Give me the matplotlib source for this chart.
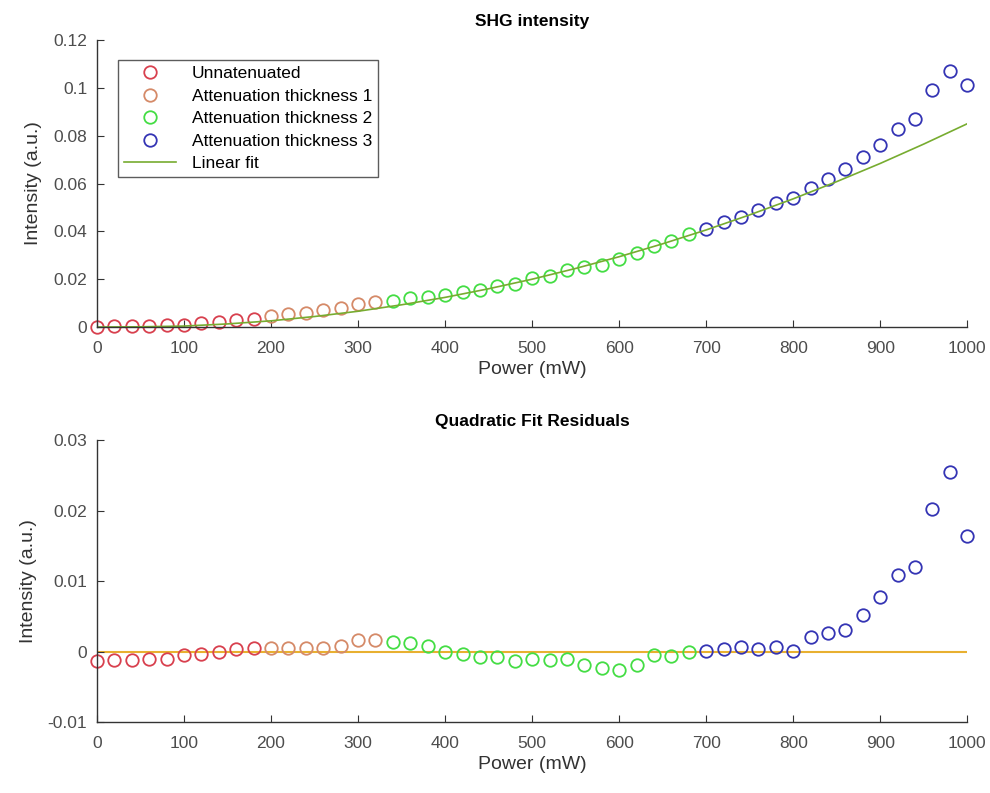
import numpy as np
import matplotlib
matplotlib.use("Agg")
import matplotlib.pyplot as plt

plt.rcParams['font.family'] = ['Liberation Sans', 'DejaVu Sans']

""" Data read from the picture """
power = [0, 20, 40, 60, 80, 100, 120, 140, 160, 180,
         200, 220, 240, 260, 280, 300, 320,
         340, 360, 380, 400, 420, 440, 460, 480, 500, 520, 540, 560, 580,
         600, 620, 640, 660, 680,
         700, 720, 740, 760, 780, 800, 820, 840, 860, 880, 900, 920, 940,
         960, 980, 1000]

intensity = [0.0, 0.0003, 0.0003, 0.0005, 0.0007, 0.001, 0.0018, 0.002, 0.003, 0.0035,
             0.0045, 0.0055, 0.006, 0.007, 0.008, 0.0095, 0.0105,
             0.011, 0.012, 0.0125, 0.0135, 0.0145, 0.0155, 0.017, 0.018, 0.0205,
             0.0215, 0.024, 0.025, 0.026, 0.0285, 0.031, 0.034, 0.036, 0.039,
             0.041, 0.044, 0.046, 0.049, 0.052, 0.054, 0.058, 0.062, 0.066,
             0.071, 0.076, 0.083, 0.087, 0.099, 0.107, 0.101]

residual = [-0.0014, -0.0012, -0.0012, -0.0011, -0.001, -0.0005, -0.0003, 0.0, 0.0003, 0.0005,
            0.0005, 0.0005, 0.0005, 0.0005, 0.0008, 0.0016, 0.0016,
            0.0014, 0.0012, 0.0008, 0.0, -0.0003, -0.0008, -0.0008, -0.0013, -0.0011,
            -0.0012, -0.0011, -0.0019, -0.0023, -0.0026, -0.0019, -0.0005, -0.0006, 0.0,
            0.0001, 0.0004, 0.0006, 0.0003, 0.0006, 0.0001, 0.002, 0.0026, 0.0031,
            0.0052, 0.0077, 0.0108, 0.012, 0.0202, 0.0255, 0.0164]

fit_power = [0, 50, 100, 150, 200, 250, 300, 350, 400, 450, 500,
             550, 600, 650, 700, 750, 800, 850, 900, 950, 1000]
fit_intensity = [0.0, 0.0001, 0.0004, 0.0013, 0.0026, 0.0044, 0.0066, 0.0093, 0.0124,
                 0.0160, 0.020, 0.0245, 0.0294, 0.0348, 0.0406, 0.0469, 0.0536,
                 0.0608, 0.0684, 0.0765, 0.085]
zero_power = [0, 1000]
zero_line = [0, 0]

groups = ["Unnatenuated", "Attenuation thickness 1", "Attenuation thickness 2", "Attenuation thickness 3"]
group_size = [10, 7, 18, 16]
colors = ["#d8404e", "#d58a68", "#44dd44", "#3434b4"]

x_ticks = [0, 100, 200, 300, 400, 500, 600, 700, 800, 900, 1000]
top_yticks = [0, 0.02, 0.04, 0.06, 0.08, 0.1, 0.12]
top_ylabels = ["0", "0.02", "0.04", "0.06", "0.08", "0.1", "0.12"]
bot_yticks = [-0.01, 0, 0.01, 0.02, 0.03]
bot_ylabels = ["-0.01", "0", "0.01", "0.02", "0.03"]

fig = plt.figure(figsize=(9.9, 7.93), dpi=100)
ax1 = fig.add_axes([0.098, 0.5876, 0.879, 0.3619])
ax2 = fig.add_axes([0.098, 0.0895, 0.879, 0.3556])


def style(ax):
    for s in ["top", "right"]:
        ax.spines[s].set_visible(False)
    for s in ["left", "bottom"]:
        ax.spines[s].set_linewidth(1.0)
        ax.spines[s].set_color("#333333")
    ax.tick_params(direction="in", length=5, labelsize=12.5, colors="#333333",
                   labelcolor="#4d4d4d")
    ax.tick_params(axis="x", pad=10)
    ax.tick_params(axis="y", pad=7)
    ax.set_xlim(0, 1000)
    ax.set_xticks(x_ticks)
    ax.set_xlabel("Power (mW)", fontsize=14, color="#333333", labelpad=4)
    ax.set_ylabel("Intensity (a.u.)", fontsize=14, color="#333333", labelpad=8)


start = 0
for name, size, c in zip(groups, group_size, colors):
    xs = power[start:start + size]
    ax1.plot(xs, intensity[start:start + size], "o", mfc="none", mec=c,
             ms=9, mew=1.3, label=name, clip_on=False)
    ax2.plot(xs, residual[start:start + size], "o", mfc="none", mec=c,
             ms=9, mew=1.3, clip_on=False)
    start += size

ax1.plot(fit_power, fit_intensity, "-", color="#77ac30", lw=1.2, label="Linear fit")
ax2.plot(zero_power, zero_line, "-", color="#e8b030", lw=1.5, zorder=0)

style(ax1)
ax1.set_ylim(0, 0.12)
ax1.set_yticks(top_yticks)
ax1.set_yticklabels(top_ylabels)
ax1.set_title("SHG intensity", fontsize=12.5, fontweight="bold", pad=10)
leg = ax1.legend(loc="upper left", bbox_to_anchor=(0.024, 0.93), fontsize=12.5,
                 frameon=True, fancybox=False, edgecolor="#333333",
                 borderaxespad=0, handlelength=3.0, borderpad=0.35,
                 labelspacing=0.42, handletextpad=0.9)
leg.get_frame().set_linewidth(1.0)

style(ax2)
ax2.set_ylim(-0.01, 0.03)
ax2.set_yticks(bot_yticks)
ax2.set_yticklabels(bot_ylabels)
ax2.set_title("Quadratic Fit Residuals", fontsize=12.5, fontweight="bold", pad=10)

fig.savefig("out.png", dpi=100)
